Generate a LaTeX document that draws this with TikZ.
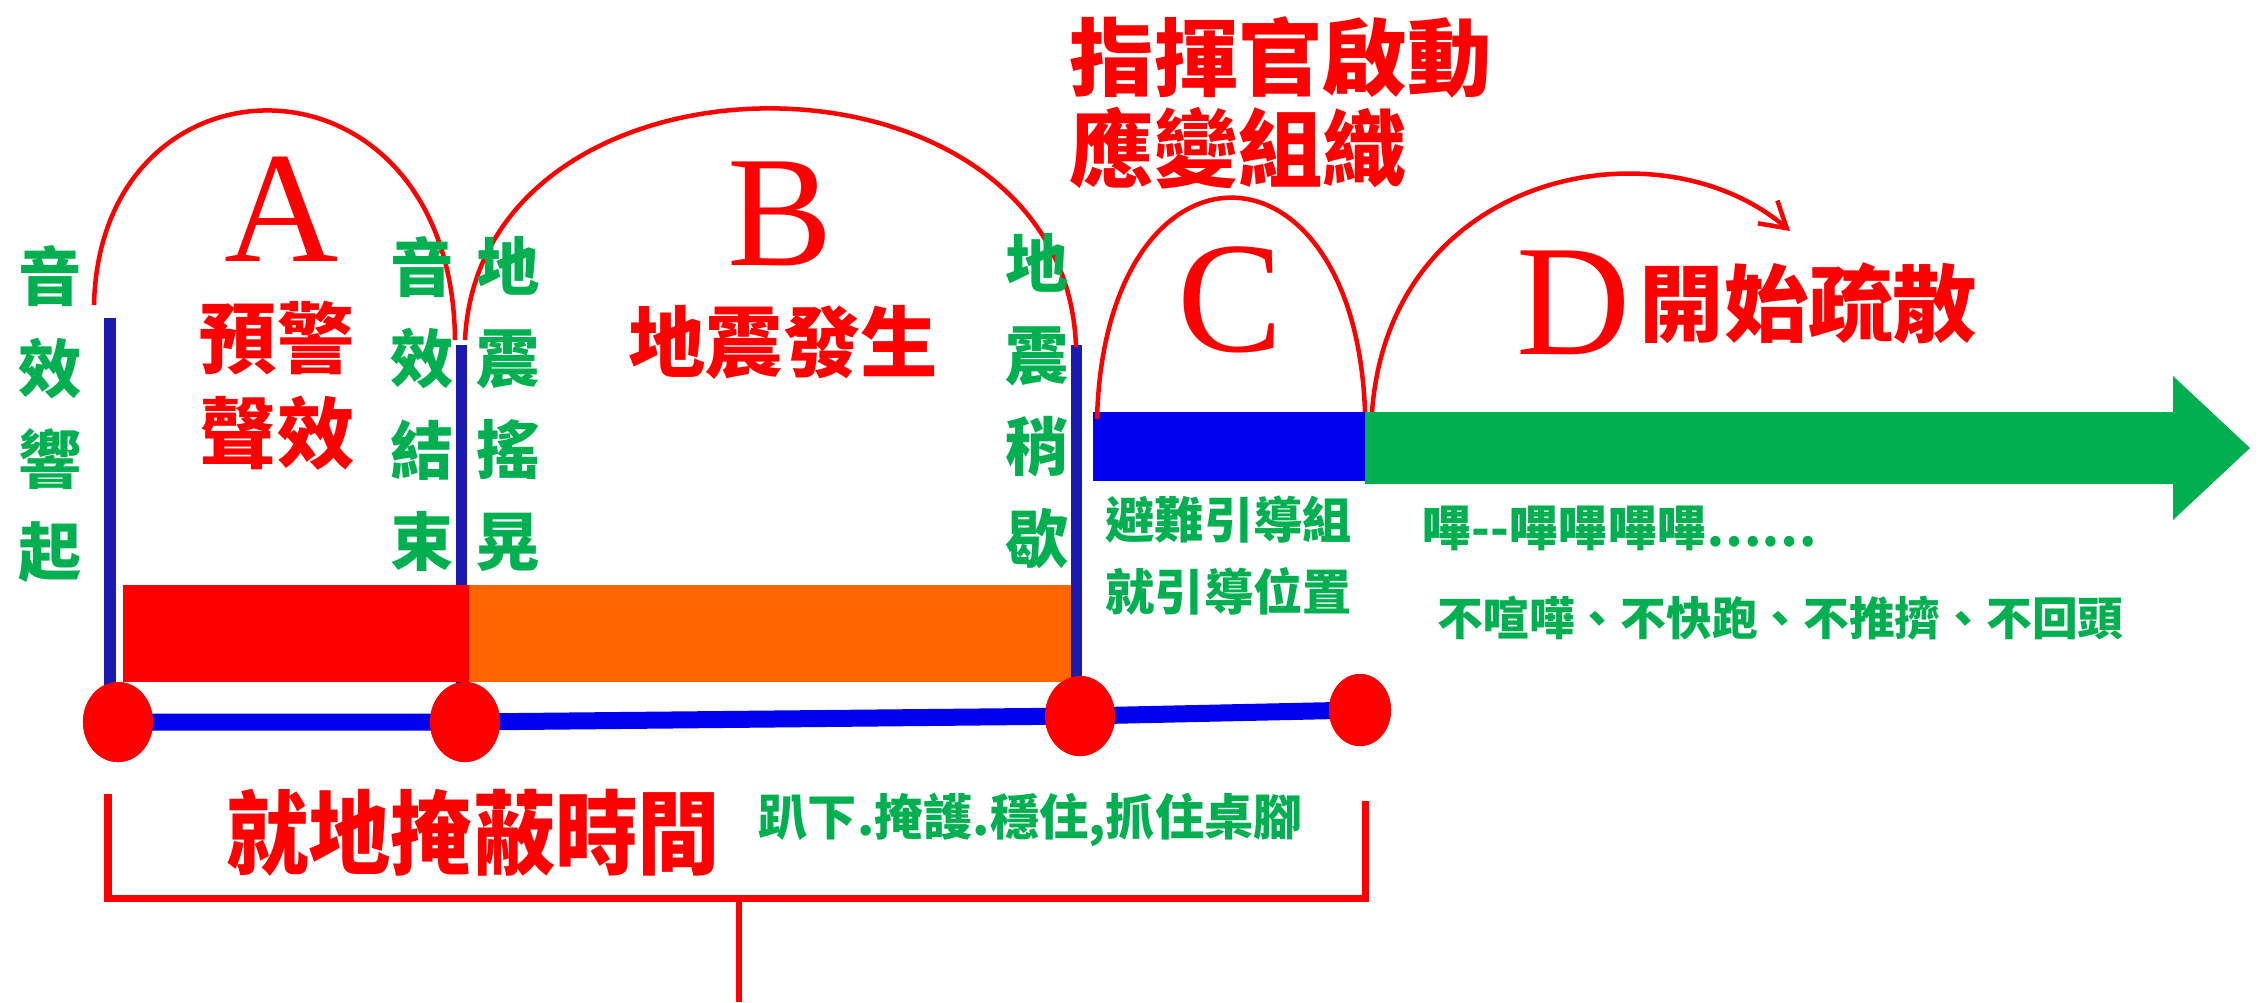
\documentclass[tikz,border=0pt]{standalone}
\usepackage{fontspec}
\setmainfont{Liberation Serif}
\newfontfamily\cjk{Noto Sans CJK TC}
\usepackage{xcolor}
\usetikzlibrary{arrows.meta,shapes.geometric,calc}

\definecolor{alarmred}{HTML}{FF0000}
\definecolor{quakeorange}{HTML}{FF6600}
\definecolor{guidegreen}{HTML}{00B050}
\definecolor{barblue}{HTML}{0000EE}
\definecolor{postblue}{HTML}{1A1AB0}

\begin{document}
\begin{tikzpicture}[x=0.01cm, y=-0.01cm,
    post/.style={draw=postblue, line width=0.11cm},
    dot/.style={ellipse, fill=alarmred, minimum width=0.7cm, minimum height=0.8cm, inner sep=0},
    jump/.style={alarmred, line width=0.045cm},
    bracket/.style={alarmred, line width=0.07cm},
    phase/.style={text=alarmred, font=\fontsize{45}{45}\selectfont, inner sep=0},
    redlabel/.style={text=alarmred, font=\cjk\bfseries\fontsize{22}{27}\selectfont, inner sep=0, align=center},
    vlabel/.style={text=guidegreen, font=\cjk\bfseries\fontsize{18}{26}\selectfont, inner sep=0, align=center},
    note/.style={text=guidegreen, font=\cjk\bfseries\fontsize{14}{20.5}\selectfont, inner sep=0, align=left}
]
\useasboundingbox (0,0) rectangle (2264,1002);
% time line
\coordinate (t1) at (110,318);
\coordinate (t2) at (461,345);
\coordinate (t3) at (1076,345);
\node[dot] (p1) at (118,722) {};
\node[dot] (p2) at (465,722) {};
\node[dot] (p3) at (1080,716) {};
\node[dot, minimum width=0.62cm, minimum height=0.72cm] (p4) at (1360,710) {};
\draw[post] (t1) -- (t1 |- p1.center);\draw[post] (t2) -- (t2 |- p2.center);\draw[post] (t3) -- (t3 |- p3.center);
\fill[alarmred] (123,585) rectangle (469,682);
\fill[quakeorange] (469,585) rectangle (1071,682);
\fill[barblue] (1093,412) rectangle (1365,481);
\fill[guidegreen] (1365,412) -- (2173,412) -- (2173,376) -- (2250,448) -- (2173,520) -- (2173,484) -- (1365,484) -- cycle;
\draw[barblue, line width=0.17cm] (p1.center) -- (p2.center) -- (p3.center) -- (p4.center);
\foreach \p in {p1,p2,p3} {\node[dot] at (\p) {};}
\node[dot, minimum width=0.62cm, minimum height=0.72cm] at (p4) {};
% bracket
\coordinate (bl) at (108,794);
\coordinate (br) at (1365,801);
\coordinate (stem) at (739,898);
\coordinate (stemEnd) at (739,1002);
\draw[bracket] (bl) |- (br |- stem) -- (br);
\draw[alarmred, line width=0.06cm] (stem) -- (stemEnd);
% jumps
\coordinate (a0) at (94,305);\coordinate (a1) at (455,340);
\coordinate (b0) at (465,340);\coordinate (b1) at (1076,347);
\coordinate (c0) at (1097,419);\coordinate (c1) at (1365,412);
\coordinate (d0) at (1372,412);\coordinate (d1) at (1790,231);
\draw[jump] (a0) .. controls (100,40) and (452,40) .. (a1);
\draw[jump] (b0) .. controls (480,30) and (1065,30) .. (b1);
\draw[jump] (c0) .. controls (1105,125) and (1355,125) .. (c1);
\draw[jump, -{Straight Barb[length=2.5mm, width=3mm]}] (d0) .. controls (1390,170) and (1660,120) .. (d1);
% labels
\node[phase] (lA) at (282,209) {A};
\node[phase] (lB) at (780,214) {B};
\node[phase] (lC) at (1230,300) {C};
\node[phase] (lD) at (1574,303) {D};
\node[redlabel] (warn) at (277,386) {預警\\聲效};
\node[redlabel] (quake) at (783,342) {地震發生};
\node[redlabel, anchor=west, align=left, font=\cjk\bfseries\fontsize{24}{26}\selectfont] (cmd) at (1069,103) {指揮官啟動\\應變組織};
\node[redlabel, anchor=west, font=\cjk\bfseries\fontsize{24}{26}\selectfont] (evac) at (1639,303) {開始疏散};
\node[vlabel] (s1) at (50,414) {音\\效\\響\\起};
\node[vlabel] (s2) at (422,404) {音\\效\\結\\束};
\node[vlabel] (s3) at (508,404) {地\\震\\搖\\晃};
\node[vlabel] (s4) at (1037,401) {地\\震\\稍\\歇};
\node[note, anchor=west] (guide) at (1105,556) {避難引導組\\就引導位置};
\node[note, anchor=west] (whistle) at (1422,528) {嗶-{}-嗶嗶嗶嗶……};
\node[note, anchor=west, font=\cjk\bfseries\fontsize{13}{13}\selectfont] (rules) at (1437,618) {不喧嘩、不快跑、不推擠、不回頭};
\node[text=alarmred, font=\cjk\bfseries\fontsize{26}{26}\selectfont, xscale=0.9, inner sep=0] (cover) at (473,833) {就地掩蔽時間};
\node[note, anchor=west, font=\cjk\bfseries\fontsize{14}{14}\selectfont] (action) at (758,820) {趴下.掩護.穩住,抓住桌腳};
\end{tikzpicture}
\end{document}
